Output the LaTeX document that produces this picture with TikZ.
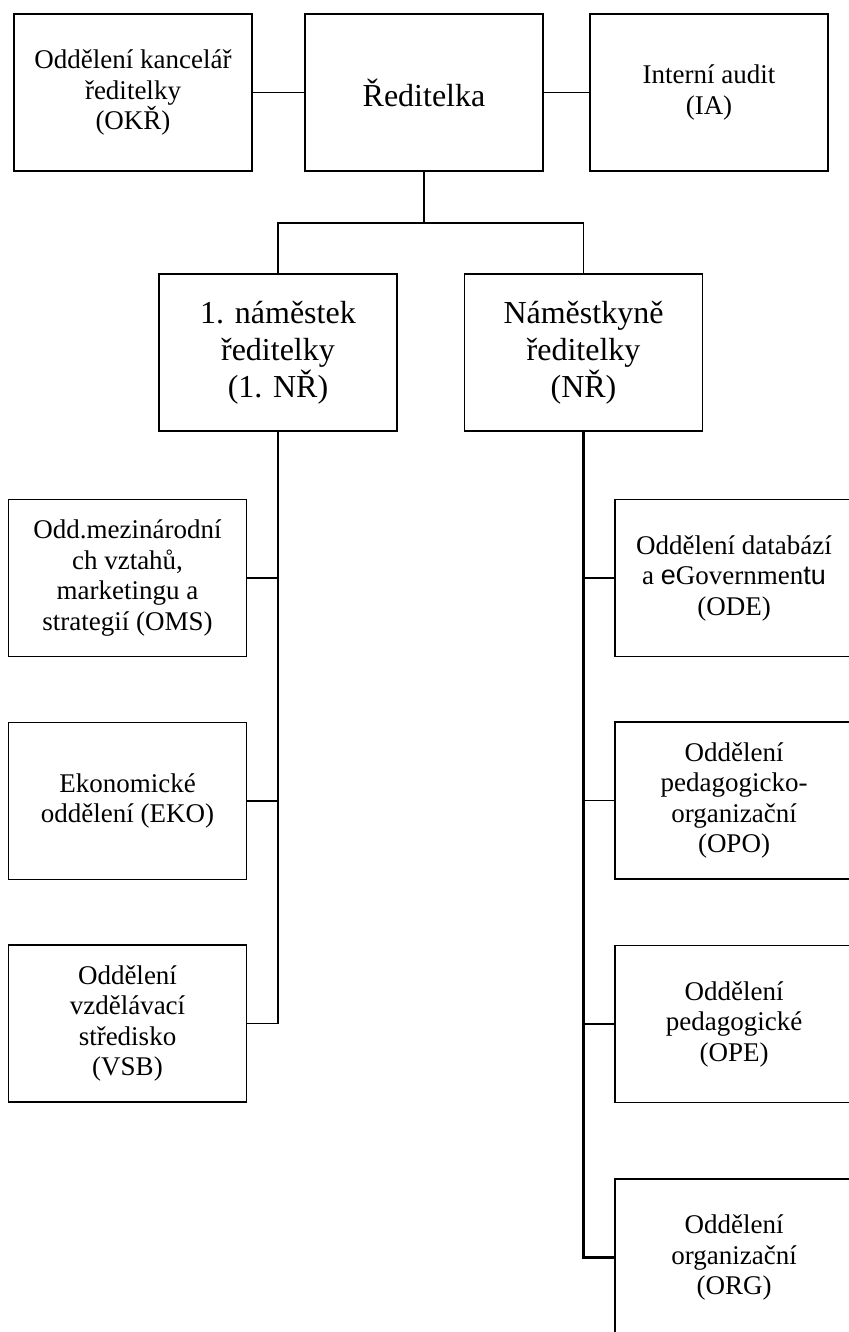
\documentclass[tikz,border=0pt]{standalone}
\usepackage{fontspec}
\setmainfont{Liberation Serif}
\newfontfamily\arialfont{Liberation Sans}
\begin{document}
\begin{tikzpicture}[x=1pt,y=-1pt,
  box/.style={draw, line width=1.9pt, rectangle, inner sep=0pt,
    minimum width=238pt, minimum height=157pt, align=center,
    font={\fontsize{27}{30.5}\selectfont}},
  bigbox/.style={box, font={\fontsize{32}{37}\selectfont}},
  link/.style={line width=1.9pt},
  trunk/.style={line width=2.1pt}]
\useasboundingbox (0,0) rectangle (848,1332);

% top row
\node[box]    (okr) at (133,92.5) {Oddělení kancelář\\ředitelky\\(OKŘ)};
\node[bigbox] (red) at (424,92.5) {Ředitelka};
\node[box]    (ia)  at (709,92.5) {Interní audit\\(IA)};

% deputies
\node[bigbox] (nr1) at (278,352.5) {1. náměstek\\ředitelky\\(1. NŘ)};
\node[bigbox] (nr2) at (583.5,352.5) {Náměstkyně\\ředitelky\\(NŘ)};

% left column
\node[box] (oms) at (127.5,578) {Odd.mezinárodní\\ch vztahů,\\marketingu a\\strategií (OMS)};
\node[box] (eko) at (127.5,801) {Ekonomické\\oddělení (EKO)};
\node[box] (vsb) at (127.5,1023.5) {Oddělení\\vzdělávací\\středisko\\(VSB)};

% right column
\node[box] (ode) at (734,578) {Oddělení databází\\a {\arialfont e}Governmen{\arialfont tu}\\(ODE)};
\node[box] (opo) at (734,800.5) {Oddělení\\pedagogicko-\\organizační\\(OPO)};
\node[box] (ope) at (734,1024) {Oddělení\\pedagogické\\(OPE)};
\node[box] (org) at (734,1257.5) {Oddělení\\organizační\\(ORG)};

% connectors
\coordinate (bar) at (424,223);
\draw[link] (okr.east) -- (red.west);
\draw[link] (red.east) -- (ia.west);
\draw[link] (red.south) -- (bar);
\draw[link] (bar) -| (nr1.north);
\draw[link] (bar) -| (nr2.north);

\draw[link] (nr1.south) |- (vsb.east);
\draw[link] (oms.east) -- (oms.east -| nr1.south);
\draw[link] (eko.east) -- (eko.east -| nr1.south);

\draw[trunk] (nr2.south) |- (org.west);
\draw[link] (ode.west) -- (ode.west -| nr2.south);
\draw[link] (opo.west) -- (opo.west -| nr2.south);
\draw[link] (ope.west) -- (ope.west -| nr2.south);
\end{tikzpicture}
\end{document}
